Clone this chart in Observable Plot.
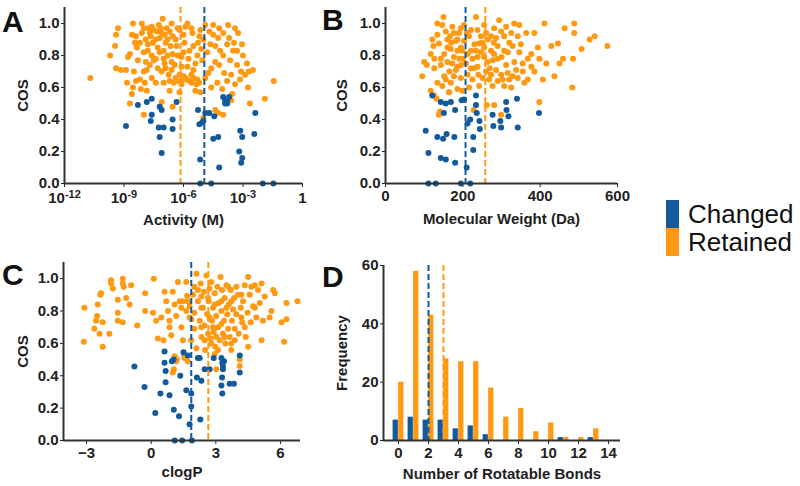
<!DOCTYPE html>
<html><head><meta charset="utf-8">
<script src="https://cdn.jsdelivr.net/npm/d3@7"></script>
<script src="https://cdn.jsdelivr.net/npm/@observablehq/plot@0.6"></script>
<style>
body{margin:0;background:#fff;}
#wrap{position:relative;width:800px;height:486px;overflow:hidden;font-family:"Liberation Sans",Arial,Helvetica,sans-serif;background:#fff;}
.p{position:absolute;}
.p svg{overflow:visible;}
.letter{position:absolute;font-weight:bold;font-size:30px;line-height:30px;color:#111;}
.sw{position:absolute;left:666px;width:13px;height:28px;}
.lt{position:absolute;left:688px;font-size:26px;line-height:26px;color:#111;}
</style></head><body>
<div id="wrap">
  <div class="letter" style="left:2px;top:7px">A</div>
  <div class="letter" style="left:322px;top:5px">B</div>
  <div class="letter" style="left:2px;top:260px">C</div>
  <div class="letter" style="left:322px;top:262px">D</div>
  <div class="sw" id="swC" style="top:200px"></div>
  <div class="sw" id="swR" style="top:228px"></div>
  <div class="lt" style="top:201px">Changed</div>
  <div class="lt" style="top:229px">Retained</div>
</div>
<script>
const BLUE = "#135a9c", ORANGE = "#ff9912";
document.getElementById("swC").style.background = BLUE;
document.getElementById("swR").style.background = ORANGE;

// ---------- Data ----------
const seriesNames = ["Changed", "Retained"];
const cosTicks = [0, 0.2, 0.4, 0.6, 0.8, 1.0];

// Panel A: [log10 Activity (M), COS]
const activityTicks = [1e-12, 1e-9, 1e-6, 1e-3, 1];
const activityChanged = [[-8.9,0.36],[-8.3,0.49],[-7.85,0.51],[-7.6,0.53],[-7.6,0.43],[-7.65,0.39],[-7.2,0.48],[-7.1,0.46],[-7.25,0.35],[-7.0,0.35],[-7.2,0.29],[-7.1,0.19],[-6.55,0.40],[-6.55,0.34],[-6.35,0.51],[-5.27,0.46],[-5.2,0.37],[-5.06,0.38],[-5.0,0.39],[-4.9,0.44],[-4.7,0.44],[-4.45,0.42],[-5.16,0.15],[-5.16,0.0],[-4.6,0.0],[-4.5,0.28],[-4.25,0.29],[-4.2,0.10],[-4.0,0.54],[-3.9,0.52],[-3.9,0.50],[-3.8,0.52],[-3.8,0.50],[-3.7,0.54],[-3.14,0.33],[-3.04,0.29],[-3.19,0.20],[-3.04,0.16],[-3.09,0.13],[-2.38,0.44],[-2.43,0.31],[-2.0,0.0],[-1.47,0.0]];
const activityRetained = [[-10.7,0.66],[-9.7,0.80],[-9.45,0.86],[-9.4,0.93],[-9.3,0.97],[-9.4,0.72],[-9.15,0.71],[-8.9,0.71],[-8.85,0.63],[-8.8,0.79],[-8.7,0.81],[-8.7,0.50],[-8.6,0.56],[-8.55,0.60],[-8.55,1.0],[-8.6,0.93],[-8.45,0.88],[-8.35,0.85],[-8.3,0.77],[-8.1,1.0],[-8.1,0.94],[-8.2,0.65],[-8.15,0.59],[-8.0,0.43],[-7.95,0.63],[-7.85,0.71],[-7.85,0.58],[-7.8,0.83],[-7.7,0.94],[-7.6,0.98],[-7.55,0.88],[-7.5,0.77],[-7.35,0.95],[-7.3,0.85],[-7.25,0.99],[-7.1,0.94],[-7.05,1.03],[-7.0,0.83],[-6.95,0.75],[-6.85,0.97],[-6.8,0.90],[-6.75,0.68],[-6.6,1.0],[-6.55,0.81],[-6.55,0.92],[-6.45,0.74],[-6.35,0.86],[-6.2,0.96],[-6.2,0.68],[-6.1,0.79],[-6.05,0.65],[-5.95,0.88],[-5.85,0.65],[-5.8,1.0],[-5.8,0.73],[-5.7,0.83],[-5.6,0.63],[-5.55,0.94],[-5.4,0.75],[-5.3,0.65],[-5.27,0.88],[-5.15,0.96],[-5.15,0.57],[-5.05,0.77],[-5.0,0.90],[-4.9,0.99],[-4.8,0.82],[-4.75,0.69],[-4.65,0.87],[-4.5,0.99],[-4.4,0.76],[-4.3,0.63],[-4.25,0.91],[-4.15,0.83],[-4.05,0.59],[-4.0,0.94],[-3.95,0.69],[-3.8,0.87],[-3.75,0.99],[-3.65,0.77],[-3.6,0.68],[-3.55,0.56],[-3.5,0.83],[-3.4,0.62],[-3.3,0.74],[-3.25,0.94],[-3.15,0.65],[-3.05,0.87],[-3.0,0.80],[-2.9,0.68],[-2.8,0.75],[-2.75,0.60],[-2.65,0.50],[-2.5,0.71],[-1.9,0.53],[-1.45,0.64],[-7.1,0.51],[-6.55,0.48],[-5.0,0.41],[-4.4,0.46],[-4.25,0.44],[-4.0,0.43],[-3.6,0.52],[-6.5,0.63],[-6.3,0.64],[-6.1,0.62],[-5.9,0.66],[-5.7,0.64],[-5.5,0.66],[-5.35,0.62],[-6.4,0.66],[-6.0,0.67],[-5.6,0.68],[-5.2,0.63],[-6.7,0.64],[-7.9,0.90],[-7.75,0.97],[-7.65,0.92],[-7.5,0.96],[-7.4,0.90],[-7.2,0.91],[-7.15,0.97],[-6.95,0.93],[-6.9,0.88],[-6.7,0.95],[-6.65,0.86],[-6.4,0.90],[-6.3,0.97],[-6.0,0.93],[-5.9,0.98],[-7.6,0.80],[-7.4,0.78],[-7.2,0.82],[-7.0,0.78],[-6.8,0.80],[-6.6,0.76],[-6.3,0.80],[-6.0,0.82],[-5.75,0.78],[-5.5,0.86],[-5.3,0.80],[-5.1,0.84],[-7.7,0.74],[-7.3,0.72],[-7.1,0.70],[-6.9,0.72],[-6.6,0.71],[-6.1,0.73],[-5.5,0.71],[-8.0,0.82],[-8.2,0.88],[-8.4,0.92],[-8.0,0.97],[-7.8,0.87],[-4.7,0.95],[-4.4,0.86],[-4.2,0.97],[-4.0,0.80],[-3.7,0.91],[-3.45,0.88],[-3.3,0.83],[-4.6,0.72],[-4.2,0.74],[-3.8,0.64],[-3.1,0.70],[-2.7,0.70],[-4.9,0.66],[-4.6,0.60],[-3.4,0.97],[-4.5,0.93],[-5.2,0.92],[-5.6,0.97],[-7.9,0.76],[-8.5,0.70],[-8.0,0.70],[-8.4,0.64],[-7.6,0.66],[-7.4,0.63],[-7.0,0.63],[-6.7,0.58],[-5.4,0.58],[-6.2,0.57]];
const activityMeanLog = [-4.95, -6.15]; // Changed, Retained

// Panel B: [Molecular Weight (Da), COS]
const mwTicks = [0, 200, 400, 600];
const mwChanged = [[121,0.55],[143,0.51],[156,0.50],[169,0.51],[180,0.46],[151,0.44],[104,0.33],[134,0.29],[149,0.28],[158,0.31],[178,0.29],[111,0.19],[143,0.16],[156,0.15],[180,0.13],[111,0.0],[130,0.0],[195,0.0],[219,0.0],[210,0.10],[227,0.21],[227,0.29],[212,0.375],[219,0.40],[236,0.44],[234,0.49],[234,0.55],[203,0.525],[197,0.52],[243,0.39],[244,0.34],[277,0.43],[279,0.36],[297,0.39],[299,0.35],[312,0.51],[313,0.46],[318,0.42],[340,0.53],[342,0.35],[397,0.44]];
const mwRetained = [[150,1.04],[134,1.0],[138,0.875],[147,0.99],[100,0.76],[107,0.74],[95,0.67],[126,0.72],[121,0.90],[124,0.86],[152,0.81],[160,0.85],[167,0.92],[173,0.98],[177,0.94],[182,0.89],[186,0.83],[191,0.78],[173,0.75],[165,0.70],[156,0.65],[147,0.61],[165,0.57],[195,0.66],[199,0.58],[203,0.99],[203,0.89],[216,0.92],[221,0.83],[225,0.78],[229,0.72],[234,1.04],[238,0.96],[242,0.875],[247,0.82],[251,0.66],[255,0.99],[260,0.94],[264,0.90],[268,0.65],[273,0.83],[277,0.77],[281,0.97],[286,0.91],[290,0.86],[294,1.02],[299,0.95],[307,0.92],[312,0.74],[316,0.82],[320,0.65],[325,0.94],[329,0.86],[333,1.0],[338,0.71],[342,0.92],[346,0.99],[355,0.75],[364,0.94],[368,0.78],[377,0.81],[385,0.94],[385,0.70],[394,0.85],[398,0.78],[407,0.65],[411,1.0],[416,0.75],[429,0.86],[437,0.67],[446,0.875],[450,0.75],[459,0.78],[463,0.97],[485,0.78],[488,1.0],[488,0.94],[507,0.84],[528,0.90],[541,0.92],[574,0.86],[483,0.60],[398,0.51],[186,0.90],[195,0.85],[208,0.75],[212,0.68],[221,0.72],[225,0.65],[238,0.73],[242,0.61],[247,0.92],[255,0.85],[260,0.70],[273,0.92],[277,0.61],[286,0.71],[290,0.78],[299,0.68],[307,0.83],[312,0.98],[143,0.74],[152,0.67],[160,0.76],[134,0.63],[143,0.78],[169,0.63],[177,0.67],[186,0.59],[195,0.74],[182,0.71],[190,0.94],[195,0.97],[212,0.81],[221,0.96],[238,0.79],[264,0.76],[273,0.68],[281,0.81],[303,0.65],[316,0.69],[325,0.60],[333,0.76],[342,0.66],[346,0.82],[355,0.70],[359,0.63],[368,0.65],[377,0.73],[126,0.78],[117,0.81],[134,0.93],[156,0.95],[169,0.84],[177,0.79],[186,0.73],[199,0.83],[216,0.60],[234,0.83],[255,0.79],[290,0.64],[307,0.61],[329,0.67],[117,0.58],[126,0.55],[138,0.43],[141,0.45],[164,0.57],[228,0.46],[262,0.49],[281,0.49],[299,0.43],[132,0.53],[170,0.88],[210,0.94],[250,0.88],[280,0.88],[230,0.87],[200,0.78],[160,0.90],[240,0.68],[270,0.72],[300,0.79],[320,0.88],[350,0.87]];
const mwMean = [207, 258];

// Panel C: [clogP, COS]
const clogpTicks = [-3, 0, 3, 6];
const clogpChanged = [[-0.78,0.457],[-0.31,0.33],[0.19,0.17],[0.43,0.29],[0.85,0.28],[0.62,0.55],[0.62,0.48],[0.67,0.43],[0.67,0.36],[0.96,0.49],[1.04,0.50],[1.05,0.19],[1.09,0.0],[1.29,0.15],[1.35,0.40],[1.44,0.0],[1.5,0.545],[1.63,0.31],[1.7,0.525],[1.78,0.10],[1.86,0.29],[1.86,0.21],[1.89,0.0],[2.12,0.39],[2.17,0.51],[2.25,0.51],[2.28,0.13],[2.33,0.37],[2.48,0.44],[2.71,0.44],[2.9,0.51],[3.26,0.51],[3.3,0.48],[3.33,0.46],[3.33,0.44],[3.29,0.39],[3.26,0.34],[3.3,0.29],[3.38,0.49],[3.64,0.35],[3.84,0.35],[4.11,0.525],[4.11,0.42]];
const clogpRetained = [[-3.13,0.61],[-3.1,0.82],[-2.64,0.69],[-2.56,0.74],[-2.51,0.77],[-2.48,0.84],[-2.36,0.90],[-2.33,0.91],[-2.4,0.66],[-2.25,0.58],[-2.25,0.73],[-1.94,0.66],[-1.86,0.99],[-1.86,0.97],[-1.78,0.94],[-1.55,0.74],[-1.55,0.79],[-1.55,0.87],[-1.32,1.0],[-1.32,0.97],[-1.27,0.95],[-1.32,0.73],[-1.16,0.88],[-1.0,0.84],[-0.93,0.96],[-0.65,0.71],[-0.28,0.91],[-0.28,0.80],[0.08,0.79],[0.12,1.0],[0.23,0.74],[0.31,0.63],[0.47,0.76],[0.57,0.62],[0.62,0.92],[0.7,0.86],[0.78,0.80],[0.85,0.74],[0.85,0.70],[0.93,0.65],[1.0,0.92],[1.0,0.42],[1.05,0.44],[1.09,0.84],[1.16,0.77],[1.24,0.98],[1.32,0.86],[1.4,0.70],[1.47,0.62],[1.55,0.51],[1.63,0.98],[1.63,0.80],[1.67,0.895],[1.7,0.49],[1.78,0.83],[1.86,0.75],[1.86,0.62],[1.94,0.90],[2.0,0.79],[2.0,0.69],[2.1,1.03],[2.1,0.57],[2.17,0.86],[2.25,0.74],[2.3,0.97],[2.33,0.64],[2.4,0.82],[2.45,0.92],[2.48,0.71],[2.5,0.56],[2.56,1.02],[2.6,0.78],[2.64,0.66],[2.67,0.86],[2.71,0.94],[2.76,0.63],[2.79,0.98],[2.82,0.74],[2.87,0.82],[2.91,0.67],[2.95,0.91],[2.98,0.58],[3.02,0.77],[3.07,0.95],[3.1,0.70],[3.13,0.85],[3.18,0.62],[3.22,1.01],[3.26,0.80],[3.29,0.93],[3.33,0.66],[3.38,0.74],[3.41,0.88],[3.44,0.60],[3.49,0.96],[3.53,0.78],[3.57,0.69],[3.6,0.84],[3.64,0.64],[3.69,0.93],[3.72,0.60],[3.75,0.74],[3.8,0.81],[3.85,0.88],[3.88,0.69],[3.95,0.78],[4.03,0.90],[4.06,0.66],[4.11,0.50],[4.11,0.46],[4.16,0.82],[4.22,0.73],[4.26,0.86],[4.34,0.96],[4.39,0.64],[4.47,0.79],[4.5,1.01],[4.57,0.90],[4.62,0.73],[4.73,0.83],[4.81,0.96],[4.88,0.76],[4.96,0.93],[5.04,0.85],[5.12,0.97],[5.19,0.74],[5.27,0.89],[5.5,0.76],[5.58,0.80],[5.66,0.93],[5.74,0.91],[6.05,0.73],[6.17,0.61],[6.28,0.85],[6.28,0.75],[6.79,0.86],[5.12,0.62],[4.5,0.58],[3.72,0.56],[2.95,0.535],[2.68,0.44],[3.02,0.44],[1.19,0.50],[1.52,0.53],[1.7,0.86],[2.17,0.93],[2.33,0.82],[2.64,0.88],[2.87,0.70],[3.02,0.64],[3.26,0.72],[3.49,0.82],[3.72,0.86],[3.95,0.95],[4.19,0.90],[3.88,0.62],[4.19,0.76],[2.48,0.62],[2.79,0.60],[3.1,0.56],[3.41,0.64],[2.0,0.95],[1.78,0.76],[2.33,0.70],[2.71,0.76],[3.26,0.86],[2.95,0.84],[3.57,0.95],[4.34,0.70],[4.65,0.95],[4.81,0.82],[1.47,0.86],[1.4,0.82],[2.33,0.89],[1.09,0.52],[1.16,0.49]];
const clogpMean = [1.86, 2.65];

// Panel D: rotatable bond histogram
const bondTicks = [0, 2, 4, 6, 8, 10, 12, 14];
const freqTicks = [0, 20, 40, 60];
const bonds = [0, 1, 2, 3, 4, 5, 6, 7, 8, 9, 10, 11, 12, 13];
const bondsChanged = [7, 8, 7, 7, 4, 5, 2, 0, 0, 0, 0, 1, 0, 1];
const bondsRetained = [20, 58, 43, 28, 27, 27, 18, 8, 11, 3, 6, 1, 1, 4];
const bondsMean = [2.0, 3.0];

// ---------- Drawing ----------
const FONT = '"Liberation Sans", Arial, Helvetica, sans-serif';
const AX = "#333";
const baseStyle = {fontFamily: FONT, fontSize: "15px", fontWeight: "bold", color: "#222", background: "transparent", overflow: "visible"};
const logFmt = d => { const e = Math.round(Math.log10(d)); return e === 0 ? "1" : "10^" + e; };

function fixSuperscripts(svg) {
  svg.querySelectorAll("text").forEach(t => {
    const m = /^10\^(-?\d+)$/.exec(t.textContent);
    if (!m) return;
    t.textContent = "10";
    const ns = "http://www.w3.org/2000/svg";
    const s = document.createElementNS(ns, "tspan");
    s.setAttribute("dy", "-0.45em");
    s.setAttribute("font-size", "11");
    s.textContent = m[1];
    t.appendChild(s);
  });
}

function titles(xTitle, yTitle, xOff, yOff) {
  return [
    Plot.text([xTitle], {text: d => d, frameAnchor: "bottom", dy: xOff, lineAnchor: "middle", textAnchor: "middle", fontSize: 15, fontWeight: "bold", fill: "#1e1e1e"}),
    Plot.text([yTitle], {text: d => d, frameAnchor: "left", dx: yOff, rotate: -90, lineAnchor: "middle", textAnchor: "middle", fontSize: 15, fontWeight: "bold", fill: "#1e1e1e"})
  ];
}

function place(p, left, top) {
  const d = document.createElement("div");
  d.className = "p"; d.style.left = left + "px"; d.style.top = top + "px";
  d.appendChild(p);
  document.getElementById("wrap").appendChild(d);
}

function scatter(opts) {
  const {left, top, width, height, margins, x, xAcc, changed, retained, means, xMin, xTitle, yTitle, xOff, yOff} = opts;
  const p = Plot.plot({
    width, height,
    marginLeft: margins[0], marginRight: margins[1], marginTop: margins[2], marginBottom: margins[3],
    style: baseStyle,
    x: {tickSize: 4, tickPadding: 3, ...x, label: null},
    y: {domain: [0, 1.1], ticks: cosTicks, tickFormat: d3.format(".1f"), tickSize: 3, tickPadding: 2, label: null},
    marks: [
      Plot.dot(retained, {x: xAcc, y: d => d[1], r: 3, fill: ORANGE}),
      Plot.dot(changed, {x: xAcc, y: d => d[1], r: 3, fill: BLUE}),
      Plot.ruleX([means[1]], {stroke: ORANGE, strokeWidth: 2, strokeDasharray: "6,3"}),
      Plot.ruleX([means[0]], {stroke: BLUE, strokeWidth: 2, strokeDasharray: "6,3"}),
      Plot.ruleY([0], {stroke: AX, strokeWidth: 2}),
      Plot.ruleX([xMin], {stroke: AX, strokeWidth: 2}),
      ...titles(xTitle, yTitle, xOff, yOff)
    ]
  });
  fixSuperscripts(p);
  place(p, left, top);
}

// A
scatter({left: 0, top: 0, width: 310, height: 232, margins: [64, 8, 7, 49],
  x: {type: "log", domain: [1e-12, 1], ticks: activityTicks, tickFormat: logFmt, tickPadding: 5},
  xAcc: d => 10 ** d[0], changed: activityChanged, retained: activityRetained,
  means: activityMeanLog.map(v => 10 ** v), xMin: 1e-12,
  xTitle: "Activity (M)", yTitle: "COS", xOff: 37, yOff: -41});

// B
scatter({left: 300, top: 0, width: 320, height: 232, margins: [85, 3, 7, 49],
  x: {domain: [0, 600], ticks: mwTicks, tickFormat: d3.format("d")},
  xAcc: d => d[0], changed: mwChanged, retained: mwRetained,
  means: mwMean, xMin: 0,
  xTitle: "Molecular Weight (Da)", yTitle: "COS", xOff: 36, yOff: -43});

// C
scatter({left: 0, top: 240, width: 310, height: 246, margins: [63, 10, 22, 46],
  x: {domain: [-4.07, 6.93], ticks: clogpTicks, tickFormat: d3.format("d")},
  xAcc: d => d[0], changed: clogpChanged, retained: clogpRetained,
  means: clogpMean, xMin: -4.07,
  xTitle: "clogP", yTitle: "COS", xOff: 32, yOff: -40});

// D
{
  const rowsC = bonds.map((b, i) => ({b, n: bondsChanged[i]})).filter(d => d.n > 0);
  const rowsR = bonds.map((b, i) => ({b, n: bondsRetained[i]})).filter(d => d.n > 0);
  const p = Plot.plot({
    width: 300, height: 246, marginLeft: 63, marginRight: 0, marginTop: 25, marginBottom: 46,
    style: baseStyle,
    x: {domain: [-1, 14.8], ticks: bondTicks, tickFormat: d3.format("d"), tickSize: 4, tickPadding: 3, label: null},
    y: {domain: [0, 60], ticks: freqTicks, tickSize: 3, tickPadding: 2, label: null},
    marks: [
      Plot.rect(rowsC, {x1: d => d.b - 0.36, x2: d => d.b - 0.01, y1: 0, y2: d => d.n, fill: BLUE}),
      Plot.rect(rowsR, {x1: d => d.b + 0.01, x2: d => d.b + 0.36, y1: 0, y2: d => d.n, fill: ORANGE}),
      Plot.ruleX([bondsMean[1]], {stroke: ORANGE, strokeWidth: 2, strokeDasharray: "6,3"}),
      Plot.ruleX([bondsMean[0]], {stroke: BLUE, strokeWidth: 2, strokeDasharray: "6,3"}),
      Plot.ruleY([0], {stroke: AX, strokeWidth: 2}),
      Plot.ruleX([-1], {stroke: AX, strokeWidth: 2}),
      ...titles("Number of Rotatable Bonds", "Frequency", 34, -41)
    ]
  });
  place(p, 320, 240);
}
</script>
</body></html>
